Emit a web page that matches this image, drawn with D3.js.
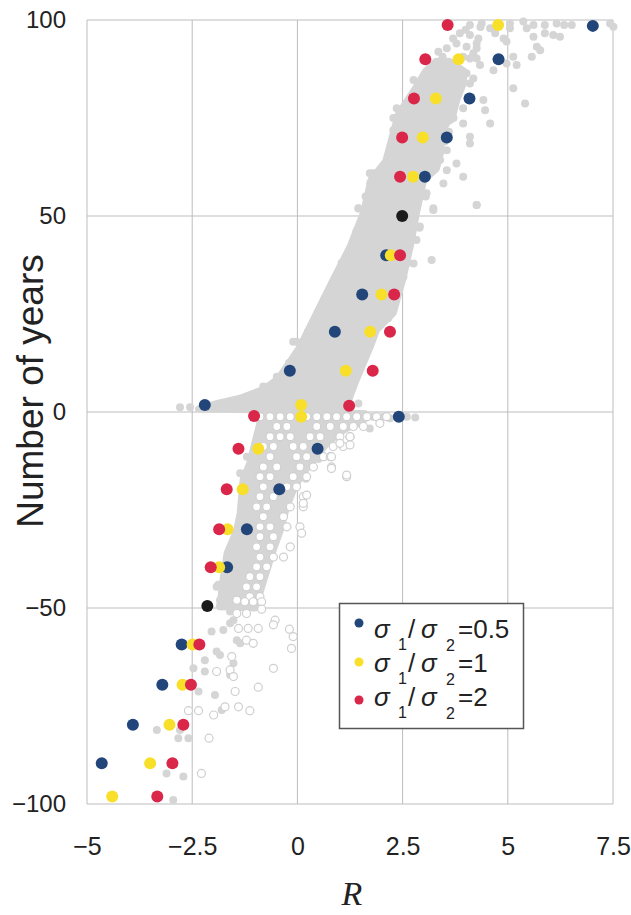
<!DOCTYPE html>
<html>
<head>
<meta charset="utf-8">
<script src="https://cdn.jsdelivr.net/npm/d3@7"></script>
<style>
  body { margin: 0; background: #fff; }
  text { font-family: "Liberation Sans", Arial, sans-serif; fill: #222; }
</style>
</head>
<body>
<div id="chart"></div>
<script>
// ticks
var xTicks = [-5, -2.5, 0, 2.5, 5, 7.5];
var yTicks = [-100, -50, 0, 50, 100];

// dense part of the simulated cloud (outlines, [R, years])
var upperBand = [
  [-2.35, 0.8], [-1.9, 2.2], [-1.36, 3.5], [-0.8, 5.8], [-0.45, 8.5], [0.06, 16.6],
  [0.46, 25.3], [0.85, 33.7], [1.25, 42.1], [1.57, 50.8], [1.75, 59.2], [2.1, 64],
  [2.25, 70], [2.4, 76], [2.8, 82.5], [3.05, 87], [3.3, 89.5], [3.6, 89.5],
  [3.95, 87], [3.95, 84], [3.8, 80], [3.7, 76], [3.45, 72],
  [3.4, 66], [3.3, 62], [3.0, 59.2], [2.83, 50.8], [2.68, 42.1], [2.5, 33.7],
  [2.28, 25.3], [1.88, 20.9], [1.73, 16.6], [1.4, 8.2], [1.25, 4], [1.15, 0.6],
  [-1.0, 0.6]
];
var lowerBand = [
  [-0.95, -0.4], [1.6, -0.4], [1.6, -1.8], [1.1, -4.6], [0.7, -8], [0.4, -12],
  [0.1, -16], [-0.1, -20], [-0.25, -24], [-0.4, -30], [-0.6, -36], [-0.8, -43],
  [-1.0, -50], [-1.84, -49.7], [-1.77, -42.9], [-1.67, -36], [-1.44, -30.1],
  [-1.36, -25.8], [-1.29, -17.3], [-1.13, -13], [-0.89, -2.8]
];

// scattered filled grey runs
var grayDots = [
  [4.10, 98.7], [4.38, 99.1], [5.05, 99.1], [5.37, 99.6], [5.61, 98.7], [5.88, 98.7],
  [6.16, 99.1], [6.34, 98.7], [6.52, 98.7], [7.43, 99.1], [7.51, 98.3], [3.86, 96.6],
  [4.10, 96.2], [4.70, 96.6], [4.97, 94.5], [5.61, 95.7], [5.88, 96.6], [6.08, 96.2],
  [6.24, 95.7], [5.69, 93.2], [5.77, 92.3], [3.78, 94.0], [4.02, 93.2], [4.26, 94.0],
  [4.18, 91.5], [3.94, 90.6], [3.35, 91.9], [5.13, 90.6], [5.21, 88.5], [4.97, 88.9],
  [5.57, 90.6], [4.66, 87.2], [4.34, 88.5], [3.31, 88.9], [3.55, 88.9], [3.07, 86.4],
  [3.23, 85.6], [2.76, 84.7], [3.0, 83.0], [3.47, 83.8], [3.71, 85.6], [3.86, 87.2],
  [4.02, 86.4], [4.10, 83.8], [5.13, 82.6], [5.41, 78.7], [4.42, 79.6], [4.46, 77.0],
  [4.58, 73.6], [3.94, 73.6], [4.10, 70.2], [4.10, 68.5], [3.78, 63.4], [3.94, 60.0],
  [4.26, 52.8], [3.55, 66.8], [3.63, 74.5], [3.39, 77.9], [3.07, 77.0], [2.52, 77.0],
  [2.44, 74.5], [2.68, 72.8], [3.07, 72.8], [3.31, 71.9], [2.28, 71.9], [2.36, 67.7],
  [2.76, 66.8], [3.15, 66.0], [3.39, 64.3], [2.12, 63.4], [2.44, 63.4], [1.80, 60.9],
  [1.73, 58.3], [1.96, 56.6], [2.12, 58.3], [3.47, 58.3], [3.55, 61.7], [3.4, 81],
  [3.6, 79], [3.75, 82], [2.9, 80.5], [3.5, 69], [3.6, 71.5], [4.35, 98.2],
  [4.58, 97.9], [5.05, 97.9], [5.45, 97.9], [4.9, 95.3], [4.26, 92.8], [4.1, 90.2],
  [4.26, 90.2], [4.18, 85.1], [2.36, 77.5], [2.28, 75], [3.71, 75], [3.94, 77.5],
  [3.55, 92.8], [3.7, 95.3], [4.3, 95.3], [3.45, 90.6], [4.0, 97.5],
  [1.45, 51.9], [3.23, 51.5], [3.19, 38.8], [2.76, 37.9], [2.16, 23.9], [0.54, 24.8],
  [-0.02, 17.9], [-0.49, 9.0], [3.07, 55.8], [2.91, 47.3], [2.83, 43.9], [2.52, 34.5],
  [1.72, 60.9], [1.45, 52.0], [4.26, 52.8], [3.23, 52.0],
  [-0.6, 7], [-0.2, 12.5], [0.25, 20.5], [0.65, 29], [1.05, 38], [1.4, 46], [1.62, 55],
  [1.5, 12], [1.95, 22.5], [2.38, 30], [2.62, 38], [2.9, 47], [3.05, 55],
  [-2.79, 1.2], [-2.55, 1.2], [-0.81, 6.5], [-0.49, 8.2], [-0.1, 17.9], [1.45, 2.2],
  [-1.2, -11.4], [-1.36, -15.6], [-1.92, -44.6], [-1.84, -48],
  [1.80, -1.2], [2.04, -1.2], [2.60, -1.2], [2.80, -1.4], [1.72, -4.2], [1.49, -2.0],
  [0.5, -12], [0.9, -6], [1.4, -3], [0.2, -17], [2.2, -1.6],
  [-1.88, -44.1], [-1.60, -42.9], [-1.64, -45.8], [-1.36, -45.4], [-1.17, -46.3],
  [-1.84, -49.5], [-1.60, -50.9], [-1.52, -53.1], [-1.60, -53.9], [-1.76, -55.6],
  [-2.04, -56.0], [-1.44, -58.2], [-1.36, -59.0], [-1.92, -61.1], [-1.84, -62.0],
  [-2.20, -63.3], [-2.47, -65.4], [-2.20, -66.2], [-1.60, -67.1], [-1.52, -64.1],
  [-2.35, -71.3], [-1.96, -72.2], [-1.80, -76.0], [-2.79, -81.1], [-3.34, -81.1],
  [-2.83, -83.2], [-2.59, -83.2], [-3.11, -92.2], [-2.71, -93.0], [-2.95, -99.0]
];

// open (white) runs
var openDots = [
  [-0.89, -1.2], [-0.65, -1.2], [-0.41, -1.2], [-0.17, -1.2], [0.22, -1.2], [0.46, -1.2],
  [0.70, -1.2], [0.93, -1.2], [1.17, -1.2], [1.41, -1.2], [1.65, -1.2], [1.88, -1.2],
  [2.12, -1.2], [-0.49, -3.7], [-0.25, -3.7], [0.46, -3.7], [0.78, -3.7],
  [1.09, -3.7], [1.33, -3.7], [1.57, -3.7], [-0.65, -6.3], [-0.41, -6.3], [-0.17, -6.3],
  [0.30, -6.3], [0.54, -6.3], [1.01, -6.3], [1.25, -6.3], [-0.81, -8.8],
  [-0.57, -8.8], [-0.10, -8.8], [0.14, -8.8], [0.85, -8.8], [1.09, -8.8],
  [-0.65, -11.4], [-0.02, -11.4], [0.22, -11.4],
  [0.62, -11.4], [0.78, -11.4], [-0.81, -14.0], [-0.49, -14.0],
  [0.06, -14.0], [0.38, -14.0], [0.81, -14.0],
  [-0.89, -16.5], [-0.65, -16.5], [-0.10, -16.5], [0.22, -16.5],
  [1.17, -16.5], [-0.81, -19.1], [-0.25, -19.1],
  [-0.02, -19.1], [-0.89, -21.6], [-0.57, -21.6],
  [0.14, -21.6], [-0.97, -24.2], [-0.73, -24.2], [-0.17, -24.2],
  [0.14, -24.2], [-0.81, -26.7], [-0.33, -26.7],
  [-0.89, -29.3], [-0.65, -29.3], [-0.25, -29.3], [0.06, -29.3],
  [-0.89, -31.8], [-0.57, -31.8], [-0.97, -34.4],
  [-0.65, -34.4], [-0.17, -34.4], [-0.89, -37.0],
  [-0.57, -37.0], [-0.33, -37.0], [-0.97, -39.5], [-0.73, -39.5],
  [-1.13, -42.0], [-0.89, -42.0], [-1.21, -44.6],
  [-0.97, -44.6], [-1.13, -47.1], [-0.89, -47.1],
  [1.96, -2.9], [1.25, -6.3], [1.01, -8.0], [1.25, -8.4], [0.81, -11.4], [1.17, -16.1],
  [0.81, -14.4], [0.22, -21.2], [0.14, -23.3], [0.10, -30.9],
  [-1.44, -48.0], [-1.25, -48.4], [-1.05, -48.4], [-0.85, -48.4], [-0.85, -50.3],
  [-1.21, -51.4], [-1.44, -51.4], [-0.53, -53.1], [-0.57, -54.3], [-1.40, -55.2],
  [-1.17, -55.2], [-0.93, -55.2], [-0.19, -55.4], [-0.10, -57.3], [-1.21, -58.2],
  [-1.05, -59.0], [-0.14, -60.3], [-1.56, -62.4], [-1.60, -65.8], [-1.92, -66.2],
  [-1.52, -67.5], [-0.57, -65.4], [-0.93, -70.2], [-1.48, -71.3], [-1.72, -75.2],
  [-1.40, -75.2], [-1.13, -76.2], [-1.99, -77.3], [-2.35, -76.2], [-2.59, -76.2],
  [-2.10, -83.2], [-2.28, -92.2]
];

// theory points for each sigma ratio
var blueDots = [
  [7.02, 98.5], [4.78, 90], [4.09, 80], [3.55, 70], [3.03, 60], [2.11, 40], [1.54, 30],
  [0.89, 20.5], [-0.18, 10.5], [-2.20, 1.8], [2.41, -1.2], [0.48, -9.4], [-0.43, -19.7],
  [-1.20, -29.9], [-1.67, -39.6], [-2.75, -59.3], [-3.21, -69.6], [-3.91, -79.8],
  [-4.65, -89.6]
];
var yellowDots = [
  [4.77, 98.7], [3.83, 90], [3.29, 80], [2.98, 70], [2.75, 60], [2.22, 40], [2.0, 30],
  [1.73, 20.5], [1.15, 10.5], [0.09, 1.8], [0.09, -1.2], [-0.93, -9.4], [-1.30, -19.7],
  [-1.66, -29.9], [-1.86, -39.6], [-2.49, -59.3], [-2.73, -69.6], [-3.04, -79.8],
  [-3.50, -89.6], [-4.40, -98.1]
];
var redDots = [
  [3.57, 98.7], [3.04, 90], [2.77, 80], [2.49, 70], [2.44, 60], [2.44, 40], [2.30, 30],
  [2.20, 20.5], [1.79, 10.5], [1.23, 1.6], [-1.03, -1.0], [-1.40, -9.4], [-1.68, -19.7],
  [-1.86, -29.9], [-2.06, -39.6], [-2.33, -59.3], [-2.53, -69.6], [-2.71, -79.8],
  [-2.97, -89.6], [-3.33, -98.1]
];
var blackDots = [[2.49, 50], [-2.14, -49.5]];

var legendValues = ['0.5', '1', '2'];
var legendColors = ['#23467a', '#f7df2a', '#d92649'];

var W = 631, H = 915;
var svg = d3.select('#chart').append('svg')
    .attr('width', W)
    .attr('height', H);

var x = d3.scaleLinear().domain([-5, 7.5]).range([87, 613]);
var y = d3.scaleLinear().domain([-100, 100]).range([804, 20]);

var gridColor = '#bdbdbd';
var fmt = function(d) { return String(d).replace('-', '\u2212'); };

// grid and frame
svg.append('g').selectAll('line.vx')
    .data(xTicks)
  .enter().append('line')
    .attr('x1', function(d) { return x(d); })
    .attr('x2', function(d) { return x(d); })
    .attr('y1', y(100))
    .attr('y2', y(-100))
    .attr('stroke', gridColor)
    .attr('stroke-width', 1);
svg.append('g').selectAll('line.hy')
    .data(yTicks)
  .enter().append('line')
    .attr('x1', x(-5))
    .attr('x2', x(7.5))
    .attr('y1', function(d) { return y(d); })
    .attr('y2', function(d) { return y(d); })
    .attr('stroke', gridColor)
    .attr('stroke-width', 1);

// axes (labels only)
var xAxis = svg.append('g')
    .attr('transform', 'translate(0,' + y(-100) + ')')
    .call(d3.axisBottom(x).tickValues(xTicks).tickSize(0).tickPadding(33).tickFormat(fmt));
xAxis.select('.domain').remove();
xAxis.selectAll('text').style('font-size', '25px').attr('fill', '#222')
    .attr('font-family', '"Liberation Sans", Arial, sans-serif');

var yAxis = svg.append('g')
    .attr('transform', 'translate(' + x(-5) + ',0)')
    .call(d3.axisLeft(y).tickValues(yTicks).tickSize(0).tickPadding(21).tickFormat(fmt));
yAxis.select('.domain').remove();
yAxis.selectAll('text').style('font-size', '24px').attr('fill', '#222')
    .attr('font-family', '"Liberation Sans", Arial, sans-serif');

// axis titles
svg.append('text')
    .attr('transform', 'translate(43,391) rotate(-90)')
    .attr('text-anchor', 'middle')
    .style('font-size', '37px')
    .text('Number of years');
svg.append('text')
    .attr('x', 352)
    .attr('y', 905)
    .attr('text-anchor', 'middle')
    .style('font-family', '"Liberation Serif", "DejaVu Serif", serif')
    .style('font-style', 'italic')
    .style('font-size', '34px')
    .text('R');

// dense cloud
var bandLine = d3.line()
    .x(function(d) { return x(d[0]); })
    .y(function(d) { return y(d[1]); })
    .curve(d3.curveLinearClosed);
[upperBand, lowerBand].forEach(function(b) {
  svg.append('path')
      .attr('d', bandLine(b))
      .attr('fill', '#d5d5d5')
      .attr('stroke', '#d5d5d5')
      .attr('stroke-width', 7)
      .attr('stroke-linejoin', 'round');
});

svg.append('g').selectAll('circle')
    .data(grayDots)
  .enter().append('circle')
    .attr('cx', function(d) { return x(d[0]); })
    .attr('cy', function(d) { return y(d[1]); })
    .attr('r', 4)
    .attr('fill', '#d5d5d5');

svg.append('g').selectAll('circle')
    .data(openDots)
  .enter().append('circle')
    .attr('cx', function(d) { return x(d[0]); })
    .attr('cy', function(d) { return y(d[1]); })
    .attr('r', 4)
    .attr('fill', '#fff')
    .attr('stroke', '#cfcfcf')
    .attr('stroke-width', 1.2);

// theory points
function drawDots(data, color) {
  svg.append('g').selectAll('circle')
      .data(data)
    .enter().append('circle')
      .attr('cx', function(d) { return x(d[0]); })
      .attr('cy', function(d) { return y(d[1]); })
      .attr('r', 6)
      .attr('fill', color);
}
drawDots(blueDots, legendColors[0]);
drawDots(yellowDots, legendColors[1]);
drawDots(redDots, legendColors[2]);
drawDots(blackDots, '#1b1b1b');

// legend
var lg = svg.append('g');
lg.append('rect')
    .attr('x', 339.5).attr('y', 603.5)
    .attr('width', 184).attr('height', 125)
    .attr('fill', '#fff')
    .attr('stroke', '#555')
    .attr('stroke-width', 1.5);

var dotY = [623, 662, 700];
var baseY = [638, 672, 706];
legendValues.forEach(function(v, i) {
  lg.append('circle')
      .attr('cx', 359).attr('cy', dotY[i])
      .attr('r', 4.5)
      .attr('fill', legendColors[i]);
  var b = baseY[i];
  var t = lg.append('text').style('font-size', '26px');
  t.append('tspan').attr('x', 374).attr('y', b).style('font-style', 'italic').text('\u03c3');
  t.append('tspan').attr('x', 398).attr('y', b + 12).style('font-size', '16px').text('1');
  t.append('tspan').attr('x', 408).attr('y', b).text('/');
  t.append('tspan').attr('x', 421).attr('y', b).style('font-style', 'italic').text('\u03c3');
  t.append('tspan').attr('x', 446).attr('y', b + 13).style('font-size', '16px').text('2');
  t.append('tspan').attr('x', 458).attr('y', b).text('=' + v);
});
</script>
</body>
</html>
